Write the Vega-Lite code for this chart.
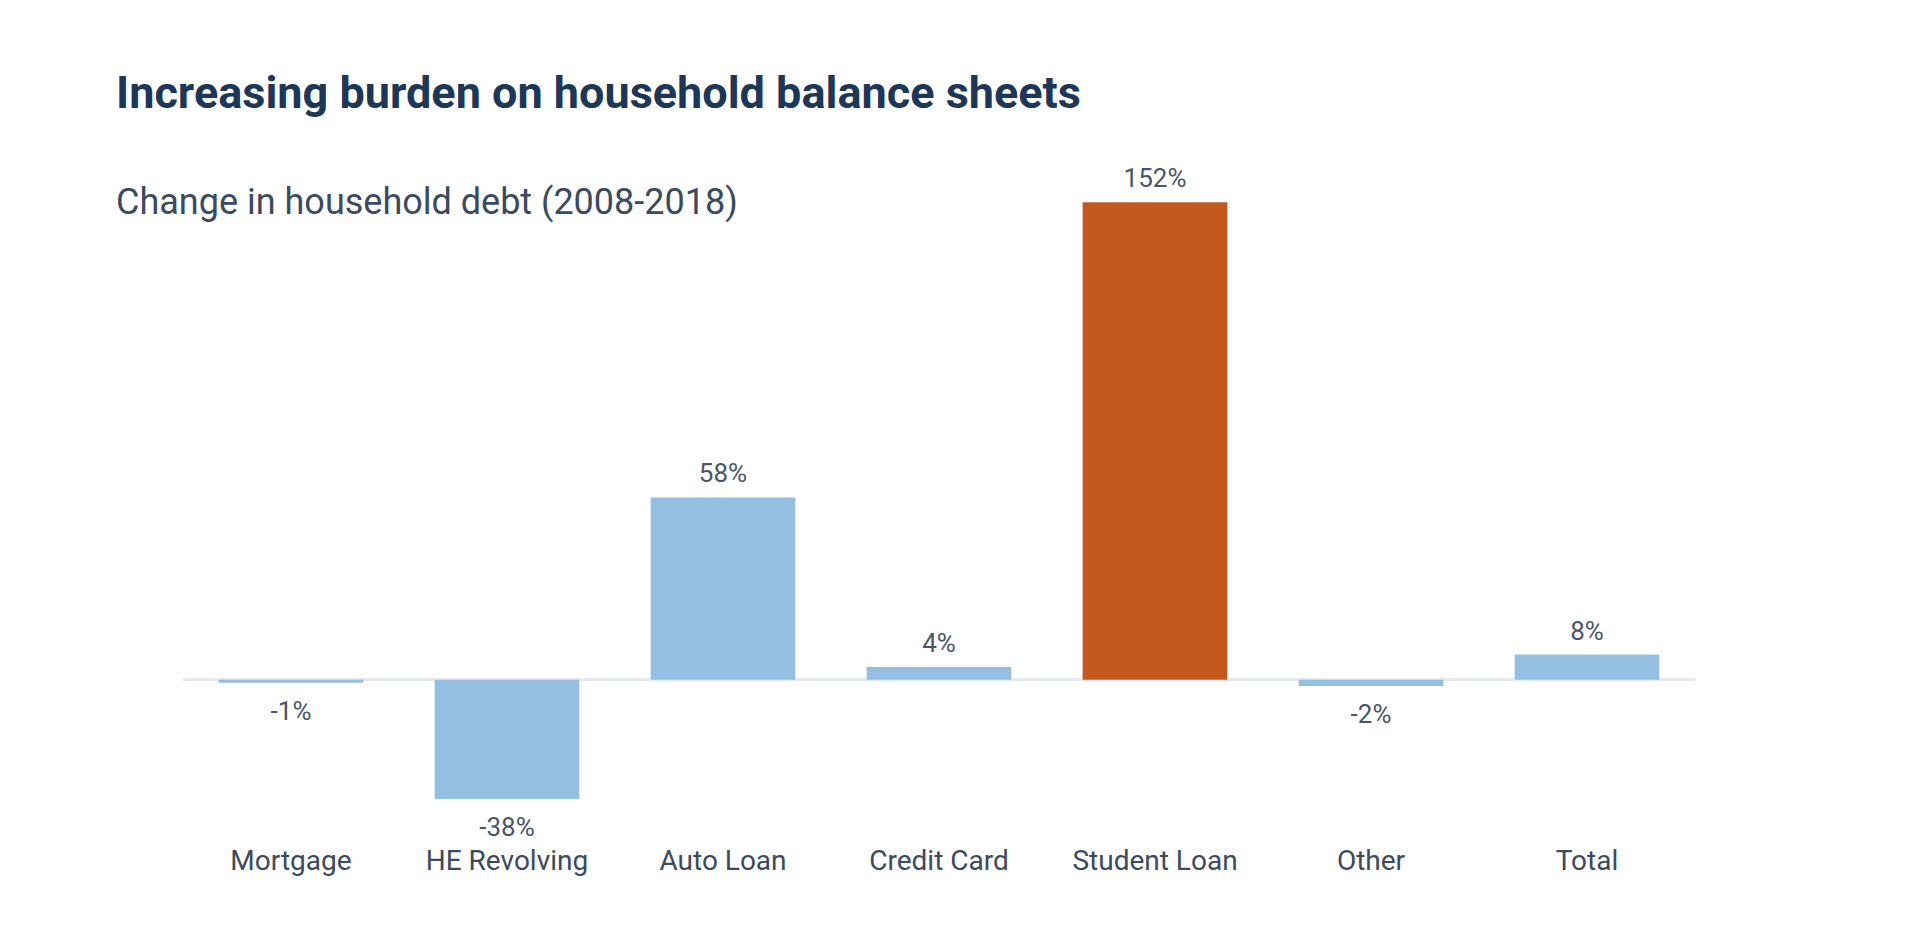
{
  "$schema": "https://vega.github.io/schema/vega-lite/v6.json",
  "width": 1512,
  "height": 666,
  "autosize": "none",
  "padding": {"left": 183, "top": 177, "right": 223, "bottom": 88},
  "background": "white",
  "title": {
    "text": "Increasing burden on household balance sheets",
    "subtitle": "Change in household debt (2008-2018)",
    "anchor": "start",
    "frame": "group",
    "dx": -67,
    "offset": -55,
    "font": "Roboto",
    "fontSize": 45,
    "fontWeight": "bold",
    "color": "#1D3759",
    "subtitleFont": "Roboto",
    "subtitleFontSize": 36,
    "subtitleFontWeight": "normal",
    "subtitleColor": "#3A4A60",
    "subtitlePadding": 69
  },
  "data": {
    "values": [
      {"category": "Mortgage", "change": -0.01, "label": "-1%"},
      {"category": "HE Revolving", "change": -0.38, "label": "-38%"},
      {"category": "Auto Loan", "change": 0.58, "label": "58%"},
      {"category": "Credit Card", "change": 0.04, "label": "4%"},
      {"category": "Student Loan", "change": 1.52, "label": "152%"},
      {"category": "Other", "change": -0.02, "label": "-2%"},
      {"category": "Total", "change": 0.08, "label": "8%"}
    ]
  },
  "encoding": {
    "x": {
      "field": "category",
      "type": "nominal",
      "sort": null,
      "scale": {"paddingInner": 0.33, "paddingOuter": 0.165},
      "axis": {
        "title": null,
        "labelAngle": 0,
        "domain": false,
        "ticks": false,
        "labelFont": "Roboto",
        "labelFontSize": 28,
        "labelColor": "#3B4A5E",
        "labelPadding": 4,
        "labelBaseline": "top"
      }
    },
    "y": {
      "field": "change",
      "type": "quantitative",
      "scale": {"domain": [-0.52, 1.6], "nice": false, "zero": true},
      "axis": null
    }
  },
  "layer": [
    {
      "mark": {"type": "rule", "color": "#E1E8EF", "strokeWidth": 2},
      "encoding": {"x": {"value": 0}, "x2": {"value": 1512}, "y": {"datum": 0}}
    },
    {
      "mark": {"type": "bar"},
      "encoding": {
        "color": {
          "condition": {"test": "datum.category === 'Student Loan'", "value": "#C4581F"},
          "value": "#94BFE0"
        }
      }
    },
    {
      "transform": [{"filter": "datum.change >= 0"}],
      "mark": {"type": "text", "font": "Roboto", "fontSize": 26, "color": "#4A5568", "baseline": "alphabetic", "dy": -15},
      "encoding": {"text": {"field": "label"}}
    },
    {
      "transform": [{"filter": "datum.change < 0"}],
      "mark": {"type": "text", "font": "Roboto", "fontSize": 26, "color": "#4A5568", "baseline": "alphabetic", "dy": 37},
      "encoding": {"text": {"field": "label"}}
    }
  ],
  "config": {"view": {"stroke": null}}
}
